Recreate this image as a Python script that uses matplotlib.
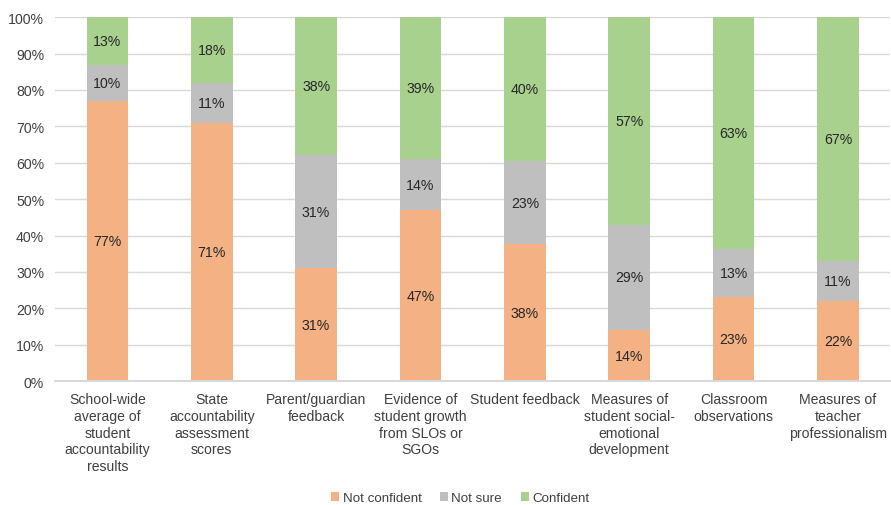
import matplotlib.pyplot as plt
import numpy as np

plt.rcParams['font.family'] = ['Liberation Sans', 'DejaVu Sans']

categories = [
    "School-wide\naverage of\nstudent\naccountability\nresults",
    "State\naccountability\nassessment\nscores",
    "Parent/guardian\nfeedback",
    "Evidence of\nstudent growth\nfrom SLOs or\nSGOs",
    "Student feedback",
    "Measures of\nstudent social-\nemotional\ndevelopment",
    "Classroom\nobservations",
    "Measures of\nteacher\nprofessionalism",
]
not_confident = [77, 71, 31, 47, 38, 14, 23, 22]
not_sure = [10, 11, 31, 14, 23, 29, 13, 11]
confident = [13, 18, 38, 39, 40, 57, 63, 67]

series = [
    ("Not confident", not_confident, "#F4B183"),
    ("Not sure", not_sure, "#BFBFBF"),
    ("Confident", confident, "#A9D18E"),
]

fig, ax = plt.subplots(figsize=(8.91, 5.06), dpi=100)
fig.subplots_adjust(left=0.062, right=0.999, top=0.964, bottom=0.245)

x = np.arange(len(categories))
totals = np.array(not_confident) + np.array(not_sure) + np.array(confident)
bottom = np.zeros(len(categories))
for name, vals, color in series:
    share = np.array(vals) / totals * 100
    ax.bar(x, share, width=0.4, bottom=bottom, color=color, label=name, zorder=3)
    for xi, b, h, v in zip(x, bottom, share, vals):
        ax.text(xi, b + h / 2, f"{v}%", ha="center", va="center",
                fontsize=10.2, color="#262626", zorder=4)
    bottom += share

ax.set_xlim(-0.5, len(categories) - 0.5)
ax.set_ylim(0, 100)
ax.set_yticks(range(0, 101, 10))
ax.set_yticklabels([f"{t}%" for t in range(0, 101, 10)])
ax.set_xticks(x)
ax.set_xticklabels(categories, fontsize=10.1, color="#404040", linespacing=1.25)
ax.tick_params(axis="y", labelsize=10.2, labelcolor="#404040", length=0, pad=8)
ax.tick_params(axis="x", length=0, pad=8)
ax.grid(axis="y", color="#D9D9D9", linewidth=1, zorder=0)
for s in ["top", "right", "left"]:
    ax.spines[s].set_visible(False)
ax.spines["bottom"].set_color("#D9D9D9")
ax.spines["bottom"].set_linewidth(1.5)
ax.spines["bottom"].set_zorder(5)

ax.legend(loc="lower center", bbox_to_anchor=(0.485, -0.372), ncol=3, frameon=False,
          fontsize=9.6, handlelength=0.6, handleheight=0.6, handletextpad=0.25,
          columnspacing=1.4, labelcolor="#404040")

fig.savefig("out.png", dpi=100)
